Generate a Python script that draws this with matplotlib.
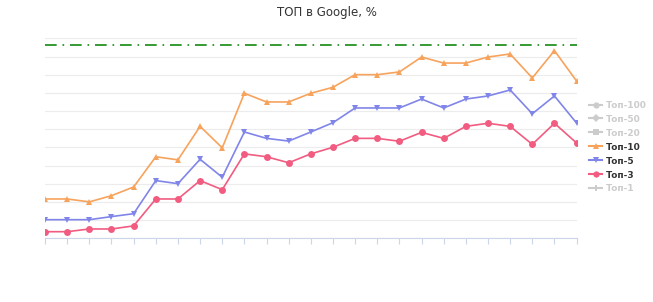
"""
ТОП в Google, % — линии позиций Топ-10 / Топ-5 / Топ-3
"""

import numpy as np
import matplotlib

matplotlib.use("Agg")
import matplotlib.pyplot as plt
from matplotlib.lines import Line2D

# === данные (первая точка за левым краем, последняя за правым) ===
top10 = [20.3, 20.3, 18.8, 22.0, 26.5, 42.1, 40.5, 57.8, 46.7, 74.9, 70.4, 70.4, 74.9,
         78.0, 84.5, 84.5, 85.9, 93.6, 90.5, 90.5, 93.6, 95.2, 82.8, 96.9, 81.2]
top5 = [9.6, 9.6, 9.6, 11.2, 12.7, 29.8, 28.2, 40.8, 31.5, 54.9, 51.6, 50.2, 54.9,
        59.7, 67.3, 67.3, 67.3, 71.9, 67.3, 71.9, 73.5, 76.6, 64.3, 73.5, 59.5]
top3 = [3.4, 3.4, 4.8, 4.8, 6.4, 20.3, 20.3, 29.8, 25.1, 43.6, 42.1, 39.0, 43.6,
        47.0, 51.6, 51.6, 50.1, 54.7, 51.6, 57.8, 59.4, 57.8, 48.5, 59.4, 49.2]
target = 100

legend_labels = ["Топ-100", "Топ-50", "Топ-20", "Топ-10", "Топ-5", "Топ-3", "Топ-1"]
legend_markers = ["o", "D", "s", "^", "v", "o", "P"]
legend_active = [False, False, False, True, True, True, False]

COLORS = {
    "top10": "#f7a35c",
    "top5": "#8085e9",
    "top3": "#f15c80",
    "hidden": "#cccccc",
    "text": "#333333",
    "grid": "#ececec",
    "axis": "#ccd6eb",
    "target": "#138a13",
}


def draw():
    fig = plt.figure(figsize=(6.53, 3.02), dpi=100)
    ax = fig.add_axes([0.069, 0.211, 0.814, 0.662])

    x = np.arange(len(top10))
    ax.set_xlim(0.775, 23.53)
    ax.set_ylim(0, 103.25)

    # сетка
    ax.set_yticks(np.linspace(0, 103.25, 12))
    ax.yaxis.grid(True, color=COLORS["grid"], linewidth=0.8)
    ax.set_axisbelow(True)
    ax.tick_params(axis="y", length=0, labelleft=False)
    ax.set_xticks(x)
    ax.tick_params(axis="x", length=4, width=0.8, color=COLORS["axis"], labelbottom=False)
    for s in ["top", "right", "left"]:
        ax.spines[s].set_visible(False)
    ax.spines["bottom"].set_color(COLORS["axis"])
    ax.spines["bottom"].set_linewidth(0.8)

    # целевая линия
    ax.axhline(target, color=COLORS["target"], linewidth=1.2, linestyle="-.",
               dashes=(7, 3.5, 1, 3.5))

    series = [
        (top10, COLORS["top10"], "^"),
        (top5, COLORS["top5"], "v"),
        (top3, COLORS["top3"], "o"),
    ]
    for vals, color, m in series:
        ax.plot(x, vals, color=color, linewidth=1.2, marker=m, markersize=5,
                markeredgewidth=0)

    ax.set_title("ТОП в Google, %", fontsize=8.5, color=COLORS["text"], pad=16,
                 x=0.53)

    # === легенда ===
    series_colors = {3: COLORS["top10"], 4: COLORS["top5"], 5: COLORS["top3"]}
    handles = []
    text_colors = []
    for i, (lab, m, on) in enumerate(zip(legend_labels, legend_markers, legend_active)):
        c = series_colors.get(i, COLORS["hidden"]) if on else COLORS["hidden"]
        handles.append(Line2D([0], [0], color=c, marker=m, markersize=4.5,
                              markeredgewidth=0, linewidth=1.5, label=lab))
        text_colors.append(COLORS["text"] if on else COLORS["hidden"])
    fig.legend(handles=handles, loc="center left", bbox_to_anchor=(0.89, 0.513),
               frameon=False, handlelength=1.4, handletextpad=0.4,
               labelspacing=0.55, prop={"size": 6.5, "weight": "bold"},
               labelcolor=text_colors)
    return fig


if __name__ == "__main__":
    fig = draw()
    fig.savefig("out.png", dpi=100, facecolor="white")
